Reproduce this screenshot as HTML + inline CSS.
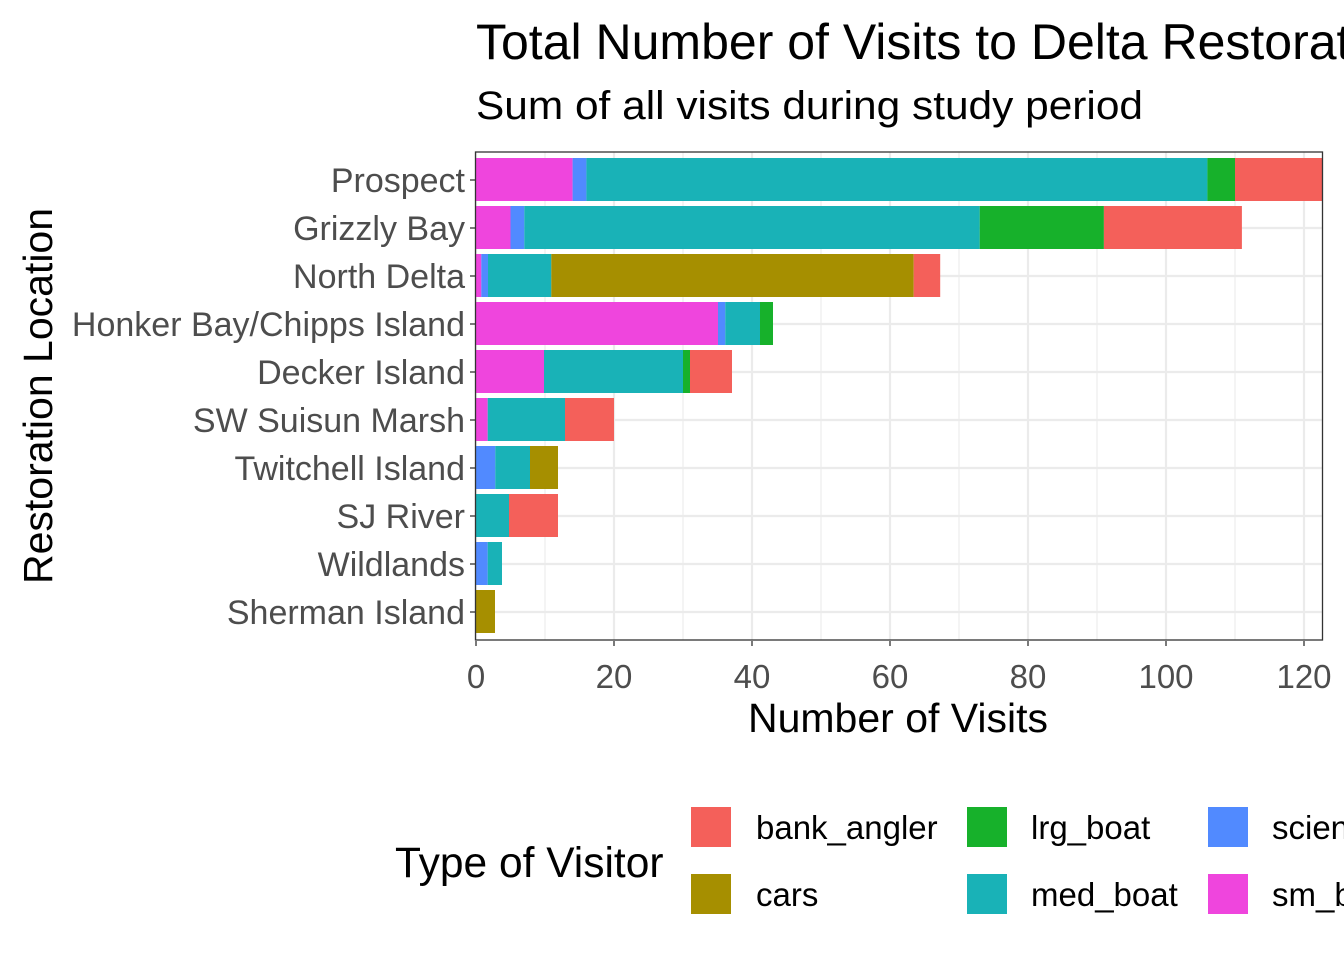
<!DOCTYPE html>
<html><head><meta charset="utf-8"><style>
html,body{margin:0;padding:0;background:#fff;}
svg{display:block;font-family:"Liberation Sans",Arial,sans-serif;}
</style></head><body>
<svg width="1344" height="960" viewBox="0 0 1344 960" xmlns="http://www.w3.org/2000/svg">
<rect width="1344" height="960" fill="#fff"/>
<text x="476" y="59" font-size="50" fill="#000">Total Number of Visits to Delta Restoration Sites</text>
<text x="476" y="119" font-size="40" fill="#000" textLength="667" lengthAdjust="spacingAndGlyphs">Sum of all visits during study period</text>
<g stroke="#EBEBEB">
<g stroke-width="1.1">
<line x1="545" y1="152" x2="545" y2="640"/><line x1="683" y1="152" x2="683" y2="640"/><line x1="821" y1="152" x2="821" y2="640"/><line x1="959" y1="152" x2="959" y2="640"/><line x1="1097" y1="152" x2="1097" y2="640"/><line x1="1235" y1="152" x2="1235" y2="640"/>
</g>
<g stroke-width="2.2">
<line x1="476" y1="152" x2="476" y2="640"/><line x1="614" y1="152" x2="614" y2="640"/><line x1="752" y1="152" x2="752" y2="640"/><line x1="890" y1="152" x2="890" y2="640"/><line x1="1028" y1="152" x2="1028" y2="640"/><line x1="1166" y1="152" x2="1166" y2="640"/><line x1="1304" y1="152" x2="1304" y2="640"/>
<line x1="476" y1="180" x2="1322" y2="180"/><line x1="476" y1="228" x2="1322" y2="228"/><line x1="476" y1="276" x2="1322" y2="276"/><line x1="476" y1="324" x2="1322" y2="324"/><line x1="476" y1="372" x2="1322" y2="372"/><line x1="476" y1="420" x2="1322" y2="420"/><line x1="476" y1="468" x2="1322" y2="468"/><line x1="476" y1="516" x2="1322" y2="516"/><line x1="476" y1="564" x2="1322" y2="564"/><line x1="476" y1="612" x2="1322" y2="612"/>
</g></g>
<g>
<rect x="476" y="158" width="96.6" height="43" fill="#EF45DD"/>
<rect x="572.6" y="158" width="13.8" height="43" fill="#518AFF"/>
<rect x="586.4" y="158" width="621" height="43" fill="#19B2B7"/>
<rect x="1207.4" y="158" width="27.6" height="43" fill="#17B12B"/>
<rect x="1235" y="158" width="87" height="43" fill="#F4605A"/>
<rect x="476" y="206" width="34.5" height="43" fill="#EF45DD"/>
<rect x="510.5" y="206" width="13.8" height="43" fill="#518AFF"/>
<rect x="524.3" y="206" width="455.4" height="43" fill="#19B2B7"/>
<rect x="979.7" y="206" width="124.2" height="43" fill="#17B12B"/>
<rect x="1103.9" y="206" width="138" height="43" fill="#F4605A"/>
<rect x="476" y="254" width="5.3" height="43" fill="#EF45DD"/>
<rect x="481.3" y="254" width="6.7" height="43" fill="#518AFF"/>
<rect x="488" y="254" width="63.3" height="43" fill="#19B2B7"/>
<rect x="551.3" y="254" width="362.4" height="43" fill="#A68F00"/>
<rect x="913.7" y="254" width="26.5" height="43" fill="#F4605A"/>
<rect x="476" y="302" width="242" height="43" fill="#EF45DD"/>
<rect x="718" y="302" width="7.3" height="43" fill="#518AFF"/>
<rect x="725.3" y="302" width="34.7" height="43" fill="#19B2B7"/>
<rect x="760" y="302" width="13" height="43" fill="#17B12B"/>
<rect x="476" y="350" width="68" height="43" fill="#EF45DD"/>
<rect x="544" y="350" width="139" height="43" fill="#19B2B7"/>
<rect x="683" y="350" width="7" height="43" fill="#17B12B"/>
<rect x="690" y="350" width="42" height="43" fill="#F4605A"/>
<rect x="476" y="398" width="11.7" height="43" fill="#EF45DD"/>
<rect x="487.7" y="398" width="77.3" height="43" fill="#19B2B7"/>
<rect x="565" y="398" width="49" height="43" fill="#F4605A"/>
<rect x="476" y="446" width="19.3" height="43" fill="#518AFF"/>
<rect x="495.3" y="446" width="34.7" height="43" fill="#19B2B7"/>
<rect x="530" y="446" width="28" height="43" fill="#A68F00"/>
<rect x="476" y="494" width="33" height="43" fill="#19B2B7"/>
<rect x="509" y="494" width="49" height="43" fill="#F4605A"/>
<rect x="476" y="542" width="11.7" height="43" fill="#518AFF"/>
<rect x="487.7" y="542" width="14.3" height="43" fill="#19B2B7"/>
<rect x="476" y="590" width="19" height="43" fill="#A68F00"/>
</g>
<rect x="475.5" y="152" width="847" height="488" fill="none" stroke="#333" stroke-width="1.3"/>
<g fill="#4D4D4D" font-size="34" text-anchor="end">
<text x="465" y="192">Prospect</text>
<text x="465" y="240">Grizzly Bay</text>
<text x="465" y="288">North Delta</text>
<text x="465" y="336">Honker Bay/Chipps Island</text>
<text x="465" y="384">Decker Island</text>
<text x="465" y="432">SW Suisun Marsh</text>
<text x="465" y="480">Twitchell Island</text>
<text x="465" y="528">SJ River</text>
<text x="465" y="576">Wildlands</text>
<text x="465" y="624">Sherman Island</text>
</g>
<g stroke="#333" stroke-width="1.3">
<line x1="470" y1="180" x2="475" y2="180"/><line x1="470" y1="228" x2="475" y2="228"/><line x1="470" y1="276" x2="475" y2="276"/><line x1="470" y1="324" x2="475" y2="324"/><line x1="470" y1="372" x2="475" y2="372"/><line x1="470" y1="420" x2="475" y2="420"/><line x1="470" y1="468" x2="475" y2="468"/><line x1="470" y1="516" x2="475" y2="516"/><line x1="470" y1="564" x2="475" y2="564"/><line x1="470" y1="612" x2="475" y2="612"/>
<line x1="476" y1="641" x2="476" y2="646"/><line x1="614" y1="641" x2="614" y2="646"/><line x1="752" y1="641" x2="752" y2="646"/><line x1="890" y1="641" x2="890" y2="646"/><line x1="1028" y1="641" x2="1028" y2="646"/><line x1="1166" y1="641" x2="1166" y2="646"/><line x1="1304" y1="641" x2="1304" y2="646"/>
</g>
<g fill="#4D4D4D" font-size="33" text-anchor="middle">
<text x="476" y="688">0</text><text x="614" y="688">20</text><text x="752" y="688">40</text><text x="890" y="688">60</text><text x="1028" y="688">80</text><text x="1166" y="688">100</text><text x="1304" y="688">120</text>
</g>
<text x="898" y="732" font-size="41" text-anchor="middle" fill="#000">Number of Visits</text>
<text transform="translate(52,396) rotate(-90)" font-size="41" text-anchor="middle" fill="#000">Restoration Location</text>
<text x="395" y="877" font-size="42.5" fill="#000">Type of Visitor</text>
<g font-size="33" fill="#000">
<rect x="691" y="807" width="40" height="40" fill="#F4605A"/><text x="756" y="839">bank_angler</text>
<rect x="691" y="874" width="40" height="40" fill="#A68F00"/><text x="756" y="906">cars</text>
<rect x="967" y="807" width="40" height="40" fill="#17B12B"/><text x="1031" y="839">lrg_boat</text>
<rect x="967" y="874" width="40" height="40" fill="#19B2B7"/><text x="1031" y="906">med_boat</text>
<rect x="1208" y="807" width="40" height="40" fill="#518AFF"/><text x="1272" y="839">science</text>
<rect x="1208" y="874" width="40" height="40" fill="#EF45DD"/><text x="1272" y="906">sm_boat</text>
</g>
</svg>
</body></html>
